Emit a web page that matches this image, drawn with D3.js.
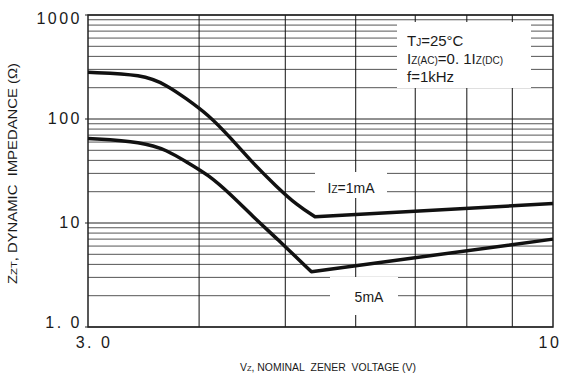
<!DOCTYPE html>
<meta charset="utf-8">
<script src="https://d3js.org/d3.v7.min.js"></script>
<style>
  body { margin: 0; background: #fff; }
  text { font-family: "Liberation Sans", Arial, sans-serif; fill: #1a1a1a; }
</style>
<div id="my_dataviz"></div>
<script>
    // values (Vz in volts, Zzt in ohms)
    var vz1mA  = [3.00, 3.46, 3.68, 3.87, 4.10, 4.33, 4.60, 4.89, 5.15, 5.40, 10];
    var zzt1mA = [281, 269, 211, 157, 109, 67.3, 37.4, 22.3, 14.9, 11.5, 15.4];
    var vz5mA  = [3.00, 3.46, 3.68, 3.87, 4.10, 4.33, 4.60, 4.89, 5.35, 10];
    var zzt5mA = [65.0, 60.3, 50.1, 38.7, 28.9, 19.2, 11.5, 7.11, 3.40, 7.00];

    var xTickValues = [3, 10];
    var xTickLabels = ["3. 0", "10"];
    var yTickValues = [1, 10, 100, 1000];
    var yTickLabels = ["1. 0", "10", "100", "1000"];
    var xGrid = [4, 5, 6, 7, 8, 9];

    var margin = {top: 15, right: 13, bottom: 48, left: 88},
        width = 566 - margin.left - margin.right,
        height = 375 - margin.top - margin.bottom;

    var svg = d3.select("#my_dataviz")
        .append("svg")
            .attr("width", 566)
            .attr("height", 375)
        .append("g")
            .attr("transform", "translate(" + margin.left + "," + margin.top + ")");

    var x = d3.scaleLog().domain([3, 10]).range([0, width]);
    var y = d3.scaleLog().domain([1, 1000]).range([height, 0]);

    // horizontal grid: 1..9 in every decade
    var yGrid = [];
    [1, 10, 100].forEach(function(d) {
        for (var m = 1; m <= 9; m++) yGrid.push(d * m);
    });
    yGrid.push(1000);

    svg.append("g").selectAll("line")
        .data(yGrid)
      .enter().append("line")
        .attr("x1", function(d) { return yTickValues.indexOf(d) >= 0 ? -3 : 0; })
        .attr("x2", width)
        .attr("y1", function(d) { return y(d); })
        .attr("y2", function(d) { return y(d); })
        .attr("stroke", function(d) { return yTickValues.indexOf(d) >= 0 ? "#222" : "#555"; })
        .attr("stroke-width", 1);

    svg.append("g").selectAll("line")
        .data(xGrid)
      .enter().append("line")
        .attr("x1", function(d) { return x(d); })
        .attr("x2", function(d) { return x(d); })
        .attr("y1", 0)
        .attr("y2", height)
        .attr("stroke", "#111")
        .attr("stroke-width", 1);

    svg.append("rect")
        .attr("width", width)
        .attr("height", height)
        .attr("fill", "none")
        .attr("stroke", "#222")
        .attr("stroke-width", 1.5);

    // white label boxes that break the grid
    var boxes = [
        {x: 397, y: 22, w: 134, h: 66},
        {x: 315, y: 172, w: 72, h: 26},
        {x: 330, y: 277, w: 68, h: 38}
    ];
    svg.append("g").selectAll("rect")
        .data(boxes)
      .enter().append("rect")
        .attr("x", function(d) { return d.x - margin.left; })
        .attr("y", function(d) { return d.y - margin.top; })
        .attr("width", function(d) { return d.w; })
        .attr("height", function(d) { return d.h; })
        .attr("fill", "#fff");

    // curves: smooth fall to the knee, then straight rise
    function drawCurve(xs, ys) {
        var pts = xs.map(function(v, i) { return [v, ys[i]]; });
        var k = d3.minIndex(ys);
        var smooth = d3.line().curve(d3.curveBasis)
            .x(function(d) { return x(d[0]); })
            .y(function(d) { return y(d[1]); });
        var straight = d3.line()
            .x(function(d) { return x(d[0]); })
            .y(function(d) { return y(d[1]); });
        svg.append("path")
            .attr("d", smooth(pts.slice(0, k + 1)) + straight(pts.slice(k)).replace("M", "L"))
            .attr("fill", "none")
            .attr("stroke", "#111")
            .attr("stroke-width", 3.5)
            .attr("stroke-linejoin", "round");
    }
    drawCurve(vz1mA, zzt1mA);
    drawCurve(vz5mA, zzt5mA);

    // tick labels
    svg.append("g").selectAll("text")
        .data(yTickValues)
      .enter().append("text")
        .attr("x", -6)
        .attr("y", function(d) { return y(d); })
        .attr("dy", function(d) { return d == 1000 ? "0.55em" : (d == 1 ? "0.05em" : "0.3em"); })
        .attr("text-anchor", "end")
        .style("font-size", "16px")
        .style("letter-spacing", "2.5px")
        .text(function(d, i) { return yTickLabels[i]; });

    svg.append("g").selectAll("text")
        .data(xTickValues)
      .enter().append("text")
        .attr("x", function(d) { return x(d) + (d == 3 ? 6 : -3); })
        .attr("y", height + 21)
        .attr("text-anchor", "middle")
        .style("font-size", "16px")
        .style("letter-spacing", "2.5px")
        .text(function(d, i) { return xTickLabels[i]; });

    // curve labels
    var l1 = svg.append("text")
        .attr("x", 351 - margin.left)
        .attr("y", 193 - margin.top)
        .attr("text-anchor", "middle")
        .style("font-size", "14px");
    l1.append("tspan").text("I");
    l1.append("tspan").style("font-size", "10px").text("Z");
    l1.append("tspan").text("=1mA");

    svg.append("text")
        .attr("x", 369 - margin.left)
        .attr("y", 302 - margin.top)
        .attr("text-anchor", "middle")
        .style("font-size", "14px")
        .text("5mA");

    // conditions
    var cond = svg.append("g")
        .attr("transform", "translate(" + (407 - margin.left) + "," + (46 - margin.top) + ")")
        .style("font-size", "15px");
    var t1 = cond.append("text").attr("y", 0);
    t1.append("tspan").text("T");
    t1.append("tspan").style("font-size", "10px").text("J");
    t1.append("tspan").text("=25°C");
    var t2 = cond.append("text").attr("y", 18);
    t2.append("tspan").text("I");
    t2.append("tspan").style("font-size", "10px").text("Z(AC)");
    t2.append("tspan").text("=0. 1I");
    t2.append("tspan").style("font-size", "10px").text("Z(DC)");
    var t3 = cond.append("text").attr("y", 36);
    t3.append("tspan").text("f=1kHz");

    // axis titles
    var xt = svg.append("text")
        .attr("x", 240 - margin.left)
        .attr("y", 371 - margin.top)
        .attr("textLength", 176)
        .attr("lengthAdjust", "spacingAndGlyphs")
        .style("font-size", "11px");
    xt.append("tspan").text("V");
    xt.append("tspan").style("font-size", "8px").text("Z");
    xt.append("tspan").text(", NOMINAL\u00a0\u00a0ZENER\u00a0\u00a0VOLTAGE (V)");

    var yt = svg.append("text")
        .attr("transform", "translate(" + (17 - margin.left) + "," + (284 - margin.top) + ") rotate(-90)")
        .attr("textLength", 221)
        .attr("lengthAdjust", "spacingAndGlyphs")
        .style("font-size", "12px");
    yt.append("tspan").text("Z");
    yt.append("tspan").style("font-size", "9px").text("ZT");
    yt.append("tspan").text(", DYNAMIC\u00a0\u00a0IMPEDANCE (\u03a9)");
</script>
